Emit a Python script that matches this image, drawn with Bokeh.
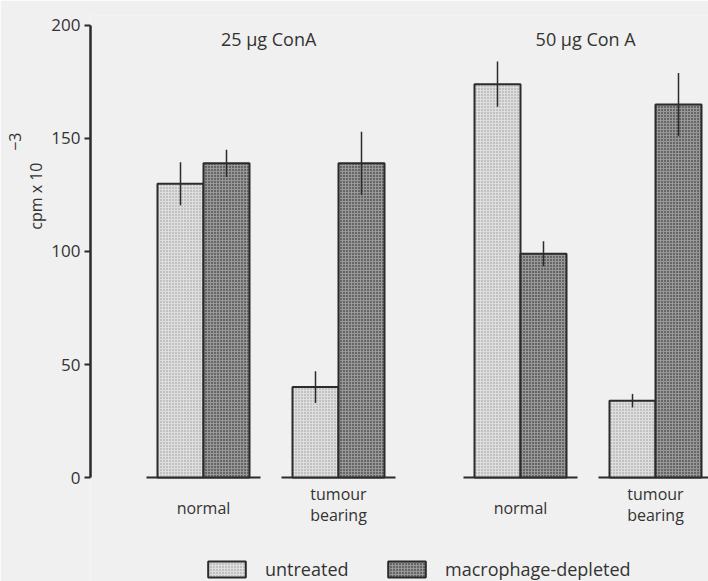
from bokeh.plotting import figure
from bokeh.models import Range1d, FixedTicker, Legend, LegendItem, Title, ColumnDataSource
from bokeh.core.properties import value
from bokeh.embed import file_html
from bokeh.resources import INLINE

# ---- data ----
concentrations = ["25 µg  ConA", "50 µg  Con A"]
conditions = ["normal", "tumour\nbearing"]
series = ["untreated", "macrophage-depleted"]
untreated_mean = [130, 40, 174, 34]
untreated_err = [9.5, 7, 10, 3]
depleted_mean = [139, 139, 99, 165]
depleted_err = [6, 14, 5.5, 14]
y_ticks = [0, 50, 100, 150, 200]
y_label_main = "cpm x 10"
y_label_exp = "−3"

# ---- layout (pixel-like x units) ----
start, cond_gap, conc_gap, bar_w, base_half = 113, 135, 317, 46, 57
centers = []
for i in range(len(concentrations)):
    for j in range(len(conditions)):
        centers.append(start + i * conc_gap + j * cond_gap)
conc_centers = [start + i * conc_gap + cond_gap / 2 for i in range(len(concentrations))]

FONT = "Open Sans"
BG = "#f0f0f0"
INK = "#2b2b2b"
TXT = "#333333"

p = figure(width=708, height=581, output_backend="svg", toolbar_location=None,
           x_range=Range1d(0, 618), y_range=Range1d(-46.0, 204.4),
           min_border_left=90, min_border_right=0, min_border_top=15, min_border_bottom=0,
           background_fill_color=BG, border_fill_color=BG, outline_line_color=None)
p.xaxis.visible = False
p.xgrid.visible = False
p.ygrid.visible = False

ax = p.yaxis[0]
ax.bounds = (0, 200)
ax.ticker = FixedTicker(ticks=y_ticks)
ax.minor_tick_line_color = None
ax.major_tick_in = 0
ax.major_tick_out = 6
ax.major_tick_line_width = 2
ax.major_tick_line_color = INK
ax.axis_line_width = 2.5
ax.axis_line_color = INK
ax.major_label_standoff = 4
ax.major_label_text_font = FONT
ax.major_label_text_font_size = "17px"
ax.major_label_text_color = TXT

# y axis label: main text plus raised exponent
p.add_layout(Title(text=y_label_main, align="right", offset=147, text_font=FONT,
                   text_font_size="16px", text_font_style="normal", text_color=TXT,
                   standoff=4), "left")
p.add_layout(Title(text=y_label_exp, align="right", offset=117, text_font=FONT,
                   text_font_size="16px", text_font_style="normal", text_color=TXT,
                   standoff=0), "left")

src_u = ColumnDataSource(dict(x=[c - bar_w / 2 for c in centers], top=untreated_mean,
                              lo=[m - e for m, e in zip(untreated_mean, untreated_err)],
                              hi=[m + e for m, e in zip(untreated_mean, untreated_err)]))
src_d = ColumnDataSource(dict(x=[c + bar_w / 2 for c in centers], top=depleted_mean,
                              lo=[m - e for m, e in zip(depleted_mean, depleted_err)],
                              hi=[m + e for m, e in zip(depleted_mean, depleted_err)]))

# baselines under each pair
p.segment(x0=[c - base_half for c in centers], y0=[0] * 4, x1=[c + base_half for c in centers], y1=[0] * 4,
          line_color=INK, line_width=2)

r_u = p.vbar(x="x", top="top", bottom=0, width=bar_w, source=src_u,
             fill_color="#dedede", hatch_pattern="dot", hatch_scale=3, hatch_color="#959595", hatch_weight=1,
             line_color=INK, line_width=2)
r_d = p.vbar(x="x", top="top", bottom=0, width=bar_w, source=src_d,
             fill_color="#989898", hatch_pattern="dot", hatch_scale=3, hatch_color="#1a1a1a", hatch_weight=1.5,
             line_color=INK, line_width=2)

p.segment(x0="x", y0="lo", x1="x", y1="hi", source=src_u, line_color=INK, line_width=1.5)
p.segment(x0="x", y0="lo", x1="x", y1="hi", source=src_d, line_color=INK, line_width=1.5)

# headings
p.text(x=conc_centers, y=[194] * 2, text=concentrations, text_align="center", text_baseline="middle",
       text_font=value(FONT), text_font_size="18px", text_color=TXT)

# category labels (each line placed separately)
lx, ly, lt = [], [], []
for c, lab in zip(centers, conditions * len(concentrations)):
    lines = lab.split("\n")
    top = -13.3 + (len(lines) - 1) * 5.9
    for k, line in enumerate(lines):
        lx.append(c)
        ly.append(top - k * 9.3)
        lt.append(line)
p.text(x=lx, y=ly, text=lt, text_align="center", text_baseline="middle",
       text_font=value(FONT), text_font_size="16px", text_color=TXT)

legend = Legend(items=[LegendItem(label=series[0], renderers=[r_u]),
                       LegendItem(label=series[1], renderers=[r_d])],
                orientation="horizontal", location=(113, 0), glyph_width=47, glyph_height=20,
                label_standoff=15, label_width=118, spacing=0, padding=0, margin=0,
                background_fill_alpha=0, border_line_color=None,
                label_text_font=FONT, label_text_font_size="18px", label_text_color=TXT)
p.add_layout(legend)

open("out.html", "w").write(file_html(p, INLINE))
